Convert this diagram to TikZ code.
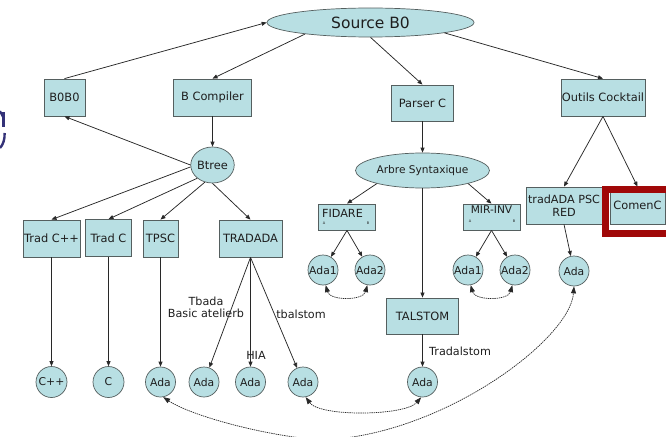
\documentclass[tikz,border=0pt]{standalone}
\usepackage{fontspec}
\setmainfont{DejaVu Sans}
\usetikzlibrary{arrows.meta,shapes.geometric}
\definecolor{nodefill}{RGB}{184,223,227}
\definecolor{nodeline}{RGB}{85,95,95}
\definecolor{edgeline}{RGB}{40,40,40}
\definecolor{framered}{RGB}{160,8,8}
\definecolor{inkblue}{RGB}{52,50,120}
\definecolor{textdark}{RGB}{30,30,30}
\begin{document}
\begin{tikzpicture}[x=1pt,y=-1pt,
  every node/.style={text=textdark, font=\fontsize{11.4}{13}\selectfont},
  box/.style={draw=nodeline, fill=nodefill, line width=0.8pt, inner sep=0pt, rectangle},
  oval/.style={draw=nodeline, fill=nodefill, line width=0.7pt, ellipse, inner sep=0pt},
  adac/.style={draw=nodeline, fill=nodefill, line width=0.7pt, circle, minimum size=30pt, inner sep=0pt, font=\fontsize{10.8}{12}\selectfont},
  edge/.style={draw=edgeline, line width=0.75pt, -{Triangle[length=5pt,width=4pt]}},
  link/.style={draw=edgeline, line width=0.7pt, dash pattern=on 1.4pt off 0.8pt, {Triangle[length=7pt,width=5pt]}-{Triangle[length=7pt,width=5pt]}},
  lbl/.style={font=\fontsize{11.2}{12}\selectfont, inner sep=0pt},
  tiny/.style={font=\fontsize{3.5}{4}\selectfont, inner sep=0pt}
]
\useasboundingbox (0,0) rectangle (666,436);

% ink marks on the left border
\draw[inkblue, line width=2.6pt] (3.6,112) -- (3.6,127);
\draw[inkblue, line width=2.2pt] (0,111) -- (3,117);
\draw[inkblue, line width=2.4pt] (4.6,133) .. controls (5,139) and (3,145) .. (0,148);

% top level
\node[oval, minimum width=207pt, minimum height=29pt, font=\fontsize{15.5}{17}\selectfont] (src) at (370.5,22.5) {Source B0};
\node[box, minimum width=41pt, minimum height=37pt] (b0b0) at (64.5,97.5) {B0B0};
\node[box, minimum width=78pt, minimum height=37pt] (bcomp) at (212.5,97.5) {B Compiler};
\node[box, minimum width=62pt, minimum height=36pt] (parser) at (422.5,103) {Parser C};
\node[box, minimum width=84pt, minimum height=37pt] (outils) at (603,97.5) {Outils Cocktail};

% second level
\node[oval, minimum width=40pt, minimum height=36pt] (btree) at (212.5,165) {Btree};
\node[oval, minimum width=134pt, minimum height=35pt, font=\fontsize{10.6}{12}\selectfont] (arbre) at (422.5,170.5) {Arbre Syntaxique};

% translators
\node[box, minimum width=57pt, minimum height=37pt] (tradcpp) at (51.5,238.5) {Trad C++};
\node[box, minimum width=46pt, minimum height=37pt] (tradc) at (108.5,238) {Trad C};
\node[box, minimum width=35pt, minimum height=37pt] (tpsc) at (160.5,238.5) {TPSC};
\node[box, minimum width=63pt, minimum height=37pt] (tradada) at (250.5,238.5) {TRADADA};

\node[box, minimum width=57pt, minimum height=26pt] (fidare) at (347,217) {};
\node[lbl] (fidaretxt) at (342.5,213) {FIDARE};
\node[tiny] (fidarea) at (324,223) {A};
\node[tiny] (fidareb) at (368,223) {B};

\node[box, minimum width=57pt, minimum height=26pt] (mirinv) at (491.5,217) {};
\node[lbl, font=\fontsize{10.6}{12}\selectfont] (mirinvtxt) at (491.5,210) {MIR-INV};
\node[tiny] (mirinva) at (470,221) {A};
\node[tiny] (mirinvb) at (514,221) {B};

\node[box, minimum width=76pt, minimum height=37pt, align=center, font=\fontsize{11.2}{12.5}\selectfont] (tradpsc) at (564,205.5) {tradADA PSC\\RED};
\node[box, minimum width=55pt, minimum height=37pt] (comenc) at (637.5,205.5) {ComenC};
\draw[framered, line width=6.5pt] (672,189.5) -- (605.5,189.5) -- (605.5,233.5) -- (672,233.5);

% outputs
\node[adac] (fa1) at (323,270) {Ada1};
\node[adac] (fa2) at (370,270) {Ada2};
\node[adac] (ma1) at (468,270) {Ada1};
\node[adac] (ma2) at (515,270) {Ada2};
\node[adac] (pa) at (574,271) {Ada};
\node[box, minimum width=72pt, minimum height=36pt] (talstom) at (422.5,316) {TALSTOM};
\node[adac] (ta) at (422.5,382) {Ada};

\node[adac, minimum size=31pt] (cpp) at (51.5,382) {C++};
\node[adac, minimum size=31pt] (c) at (108.5,382) {C};
\node[adac] (a1) at (160.5,382) {Ada};
\node[adac] (a2) at (204,382) {Ada};
\node[adac] (a3) at (250.5,382) {Ada};
\node[adac] (a4) at (303,382) {Ada};

% labels
\node[lbl, align=center] (tbada) at (206,307) {Tbada\\Basic atelierb};
\node[lbl] (hia) at (256,355) {HIA};
\node[lbl] (tbalstom) at (301,314) {tbalstom};
\node[lbl, anchor=west] (tradalstom) at (429,351) {Tradalstom};

% connectors
\draw[edge] (b0b0.north) -- (src.west);
\draw[edge] (src.190) -- (bcomp.north);
\draw[edge] (src.south) -- (parser.north);
\draw[edge] (src.352) -- (outils.north);

\draw[edge] (bcomp.south) -- (btree.north);
\draw[edge] (btree.west) -- (b0b0.south);
\draw[edge] (btree.185) -- (tradcpp.north);
\draw[edge] (btree.221) -- (tradc.north);
\draw[edge] (btree.246) -- (tpsc.north);
\draw[edge] (btree.south) -- (tradada.north);

\draw[edge] (parser.south) -- (arbre.north);
\draw[edge] (arbre.196) -- (fidare.north);
\draw[edge] (arbre.south) -- (talstom.north);
\draw[edge] (arbre.344) -- (mirinv.north);

\draw[edge] (outils.south) -- (tradpsc.north);
\draw[edge] (outils.south) -- (comenc.north);
\draw[edge] (tradpsc.south) -- (pa);

\draw[edge] (fidare.south) -- (fa1);
\draw[edge] (fidare.south) -- (fa2);
\draw[edge] (mirinv.south) -- (ma1);
\draw[edge] (mirinv.south) -- (ma2);

\draw[edge] (tradcpp.south) -- (cpp.north);
\draw[edge] (tradc.south) -- (c.north);
\draw[edge] (tpsc.south) -- (a1.north);
\draw[edge] (tradada.south) -- (a2);
\draw[edge] (tradada.south) -- (a3.north);
\draw[edge] (tradada.south) -- (a4);
\draw[edge] (talstom.south) -- (ta.north);

% equivalence links
\draw[link] (fa1.-80) to[out=-75,in=-105] (fa2.-100);
\draw[link] (ma1.-80) to[out=-75,in=-105] (ma2.-100);
\draw[link] (a4.-80) .. controls (320,417) and (405,416) .. (ta.-95);
\draw[link] (a1.-80) .. controls (190,415) and (260,435) .. (320,440)
  .. controls (440,437) and (570,340) .. (pa.south);
\end{tikzpicture}
\end{document}
